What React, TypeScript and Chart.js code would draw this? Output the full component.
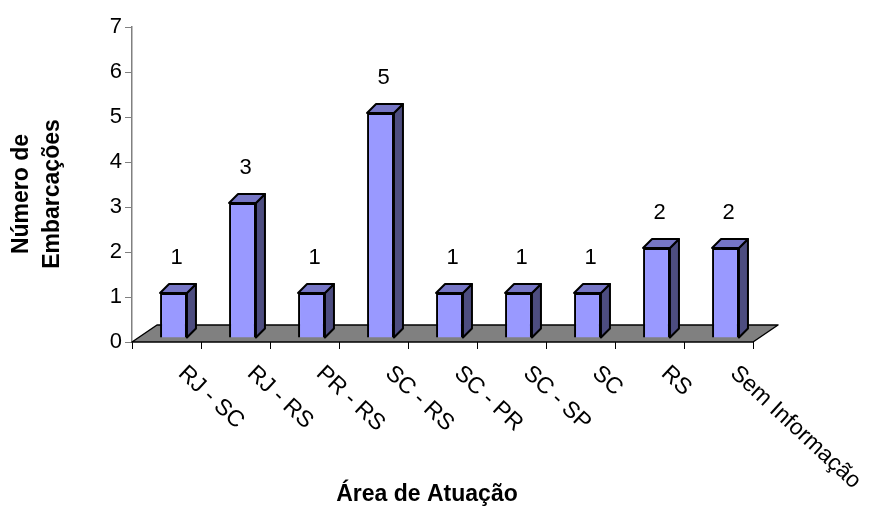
import React, { useEffect, useRef } from "react";
import { Chart, registerables } from "chart.js";

Chart.register(...registerables);

const categories = [
  "RJ - SC",
  "RJ - RS",
  "PR - RS",
  "SC - RS",
  "SC - PR",
  "SC - SP",
  "SC",
  "RS",
  "Sem Informação",
];
const embarcacoes = [1, 3, 1, 5, 1, 1, 1, 2, 2];
const yTitleLines = ["Número de", "Embarcações"];
const xTitle = "Área de Atuação";

const FRONT = "#9999FF";
const TOP = "#7676C6";
const SIDE = "#4D4D80";
const FLOOR = "#808080";
const FONT = "'Liberation Sans', Arial, sans-serif";

// bar offset inside the floor depth, and bar depth
const BAR_SHIFT_X = 7;
const BAR_SHIFT_Y = -4;
const DEPTH_X = 9;
const DEPTH_Y = -9;
// floor depth
const FLOOR_X = 25;
const FLOOR_Y = -17;

const threeD = {
  id: "threeD",
  beforeDatasetsDraw(chart: any) {
    const { ctx, chartArea } = chart;
    const { left, right, bottom } = chartArea;
    ctx.save();
    ctx.beginPath();
    ctx.moveTo(left, bottom);
    ctx.lineTo(right, bottom);
    ctx.lineTo(right + FLOOR_X, bottom + FLOOR_Y);
    ctx.lineTo(left + FLOOR_X, bottom + FLOOR_Y);
    ctx.closePath();
    ctx.fillStyle = FLOOR;
    ctx.fill();
    ctx.lineWidth = 1.5;
    ctx.strokeStyle = "#000";
    ctx.lineJoin = "round";
    ctx.stroke();
    ctx.restore();

    ctx.save();
    ctx.translate(BAR_SHIFT_X, BAR_SHIFT_Y);
  },
  afterDatasetsDraw(chart: any) {
    const { ctx } = chart;
    const meta = chart.getDatasetMeta(0);
    ctx.lineWidth = 2;
    ctx.strokeStyle = "#000";
    ctx.lineJoin = "round";
    meta.data.forEach((bar: any) => {
      const { x, y, base, width } = bar.getProps(["x", "y", "base", "width"], true);
      const l = x - width / 2;
      const r = x + width / 2;
      // side face
      ctx.beginPath();
      ctx.moveTo(r, y);
      ctx.lineTo(r + DEPTH_X, y + DEPTH_Y);
      ctx.lineTo(r + DEPTH_X, base + DEPTH_Y);
      ctx.lineTo(r, base);
      ctx.closePath();
      ctx.fillStyle = SIDE;
      ctx.fill();
      ctx.stroke();
      // top face
      ctx.beginPath();
      ctx.moveTo(l, y);
      ctx.lineTo(l + DEPTH_X, y + DEPTH_Y);
      ctx.lineTo(r + DEPTH_X, y + DEPTH_Y);
      ctx.lineTo(r, y);
      ctx.closePath();
      ctx.fillStyle = TOP;
      ctx.fill();
      ctx.stroke();
    });
    ctx.restore();

    // value labels
    ctx.save();
    ctx.fillStyle = "#000";
    ctx.font = `22px ${FONT}`;
    ctx.textAlign = "center";
    ctx.textBaseline = "middle";
    meta.data.forEach((bar: any, i: number) => {
      ctx.fillText(String(embarcacoes[i]), bar.x + 10, bar.y + BAR_SHIFT_Y - 35);
    });
    ctx.restore();
  },
  afterDraw(chart: any) {
    const { ctx, chartArea, scales } = chart;
    const xs = scales.x;
    // rotated category labels
    ctx.save();
    ctx.fillStyle = "#000";
    ctx.font = `23px ${FONT}`;
    ctx.textAlign = "left";
    ctx.textBaseline = "middle";
    categories.forEach((label, i) => {
      const px = xs.getPixelForTick(i);
      ctx.save();
      ctx.translate(px + 15, chartArea.bottom + 28);
      ctx.rotate(Math.PI / 4.2);
      ctx.fillText(label, 0, 0);
      ctx.restore();
    });
    ctx.restore();

    // axis titles
    ctx.save();
    ctx.fillStyle = "#000";
    ctx.font = `bold 23px ${FONT}`;
    ctx.textAlign = "center";
    ctx.textBaseline = "middle";
    ctx.fillText(xTitle, 427, 495);
    ctx.translate(0, 194);
    ctx.rotate(-Math.PI / 2);
    ctx.fillText(yTitleLines[0], 0, 22);
    ctx.fillText(yTitleLines[1], 0, 53);
    ctx.restore();
  },
};

export default function App() {
  const canvasRef = useRef<HTMLCanvasElement | null>(null);

  useEffect(() => {
    const canvas = canvasRef.current;
    if (!canvas) return;
    const chart = new Chart(canvas, {
      type: "bar",
      data: {
        labels: categories,
        datasets: [
          {
            data: embarcacoes,
            backgroundColor: FRONT,
            borderColor: "#000",
            borderWidth: 2,
            barPercentage: 0.39,
            categoryPercentage: 1,
            clip: false as any,
          },
        ],
      },
      plugins: [threeD],
      options: {
        responsive: false,
        animation: false,
        devicePixelRatio: 1,
        layout: { padding: { left: 0, right: 124, top: 27, bottom: 0 } },
        plugins: {
          legend: { display: false },
          tooltip: { enabled: false },
        },
        scales: {
          x: {
            type: "category",
            offset: true,
            grid: {
              offset: true,
              drawOnChartArea: false,
              drawTicks: true,
              tickLength: 7,
              color: "#000",
            },
            border: { display: false },
            ticks: { display: false },
            afterFit(scale: any) {
              scale.height = 167;
            },
          },
          y: {
            min: 0,
            max: 7,
            grid: {
              drawOnChartArea: false,
              drawTicks: true,
              tickLength: 7,
              color: "#808080",
            },
            border: { display: true, color: "#808080", width: 1.5 },
            ticks: {
              stepSize: 1,
              padding: 3,
              color: "#000",
              font: { family: FONT, size: 22 },
            },
            afterFit(scale: any) {
              scale.width = 132;
            },
          },
        },
      },
    });
    return () => chart.destroy();
  }, []);

  return (
    <div style={{ position: "absolute", left: 0, top: 0, width: 877, height: 509, background: "#fff" }}>
      <canvas ref={canvasRef} width={877} height={509} />
    </div>
  );
}
